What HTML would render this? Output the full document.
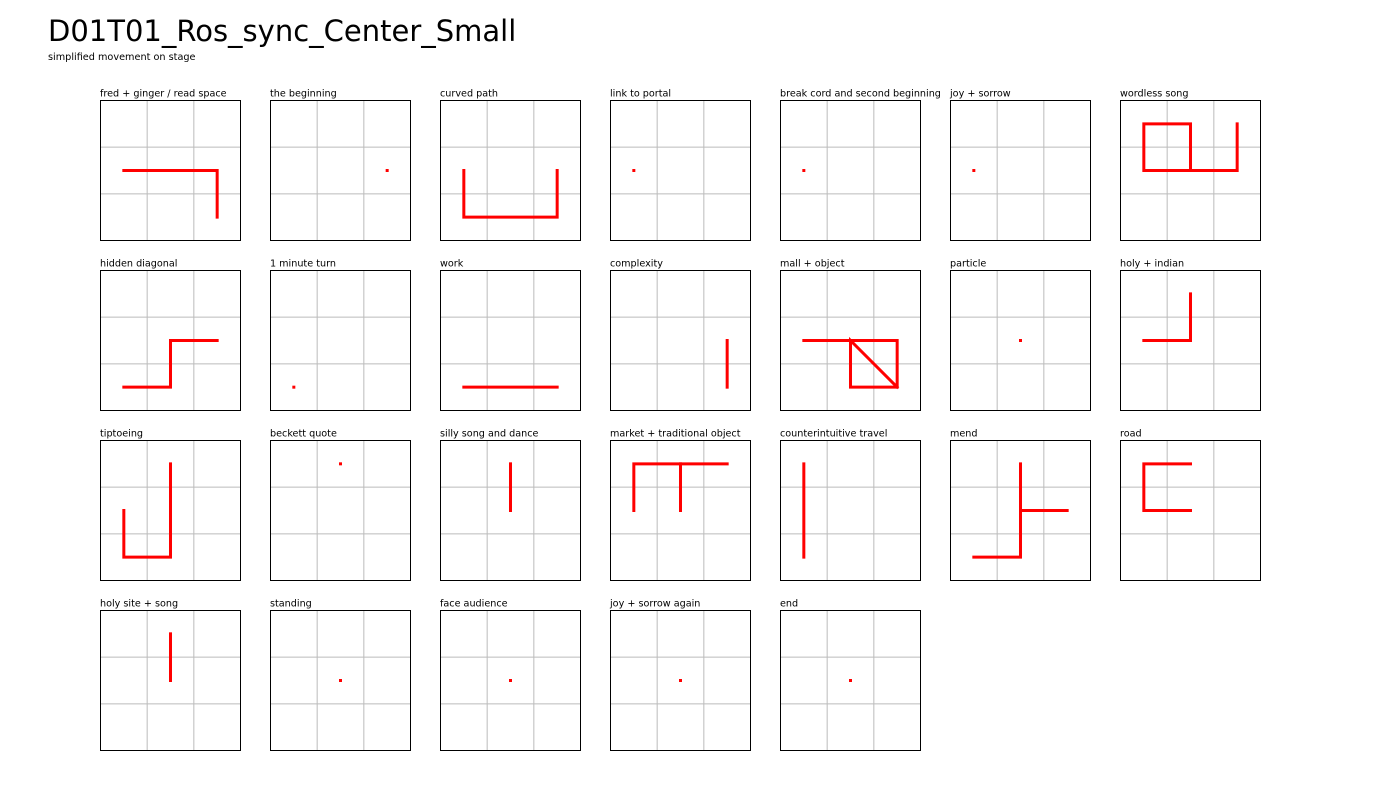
<!DOCTYPE html>
<html><head><meta charset="utf-8"><style>
html,body{margin:0;padding:0;background:#fff;width:1400px;height:800px;overflow:hidden}
svg{display:block}
text{font-family:"DejaVu Sans","Liberation Sans",sans-serif}
</style></head><body>
<svg id="chart" width="1400" height="800" xmlns="http://www.w3.org/2000/svg">
<text x="48" y="41" font-size="29" fill="#000">D01T01_Ros_sync_Center_Small</text>
<text x="48" y="60" font-size="9.7" fill="#000">simplified movement on stage</text>
</svg>
<script>
const titles = ["fred + ginger / read space","the beginning","curved path","link to portal","break cord and second beginning","joy + sorrow","wordless song",
"hidden diagonal","1 minute turn","work","complexity","mall + object","particle","holy + indian",
"tiptoeing","beckett quote","silly song and dance","market + traditional object","counterintuitive travel","mend","road",
"holy site + song","standing","face audience","joy + sorrow again","end"];
// each panel: list of polylines of [x,y] stage positions (0..6 grid, y down)
const paths = [
 [[[1,3],[5,3],[5,5]]],
 [[[5,3]]],
 [[[1,3],[1,5],[5,5],[5,3]]],
 [[[1,3]]],
 [[[1,3]]],
 [[[1,3]]],
 [[[1,1],[3,1],[3,3],[1,3],[1,1]],[[3,3],[5,3],[5,1]]],
 [[[1,5],[3,5],[3,3],[5,3]]],
 [[[1,5]]],
 [[[1,5],[5,5]]],
 [[[5,3],[5,5]]],
 [[[1,3],[5,3],[5,5],[3,5],[3,3],[5,5]]],
 [[[3,3]]],
 [[[1,3],[3,3],[3,1]]],
 [[[1,3],[1,5],[3,5],[3,1]]],
 [[[3,1]]],
 [[[3,1],[3,3]]],
 [[[1,3],[1,1],[5,1]],[[3,1],[3,3]]],
 [[[1,1],[1,5]]],
 [[[1,5],[3,5],[3,1]],[[3,3],[5,3]]],
 [[[3,1],[1,1],[1,3],[3,3]]],
 [[[3,1],[3,3]]],
 [[[3,3]]],
 [[[3,3]]],
 [[[3,3]]],
 [[[3,3]]]
];
const gridTicks = [2,4];
const NS="http://www.w3.org/2000/svg";
const svg=document.getElementById('chart');
const cols=7, x0=100.5, y0=100.5, step=170, size=140, units=6;
function mk(t,a){const e=document.createElementNS(NS,t);for(const k in a)e.setAttribute(k,a[k]);return e;}
titles.forEach((t,i)=>{
  const px=x0+(i%cols)*step, py=y0+Math.floor(i/cols)*step;
  const sx=v=>px+v*size/units, sy=v=>py+v*size/units;
  const g=mk('g',{});
  
  
  const lab=mk('text',{x:px-0.5,y:py-4,'font-size':9.65,fill:'#000'});
  
  
  lab.textContent=t; g.appendChild(lab);
  gridTicks.forEach(v=>{
    const gl=mk('line',{x1:sx(v),y1:py,x2:sx(v),y2:py+size,stroke:'#bbb','stroke-width':1});
    
    
    g.appendChild(gl);
    const gh=mk('line',{x1:px,y1:sy(v),x2:px+size,y2:sy(v),stroke:'#bbb','stroke-width':1});
    
    
    g.appendChild(gh);
  });
  const box=mk('rect',{x:px,y:py,width:size,height:size,fill:'none',stroke:'#000','stroke-width':1});
  
  
  g.appendChild(box);
  paths[i].forEach(pl=>{
    if(pl.length===1){
      const d=mk('rect',{x:sx(pl[0][0])-1.5,y:sy(pl[0][1])-1.5,width:3,height:3,fill:'#f00'});
      
      
      g.appendChild(d);
    } else {
      const p=mk('polyline',{points:pl.map(q=>sx(q[0])+','+sy(q[1])).join(' '),fill:'none',stroke:'#f00','stroke-width':3,'stroke-linecap':'square','stroke-linejoin':'miter'});
      
      
      g.appendChild(p);
    }
  });
  svg.appendChild(g);
});
</script>
</body></html>
